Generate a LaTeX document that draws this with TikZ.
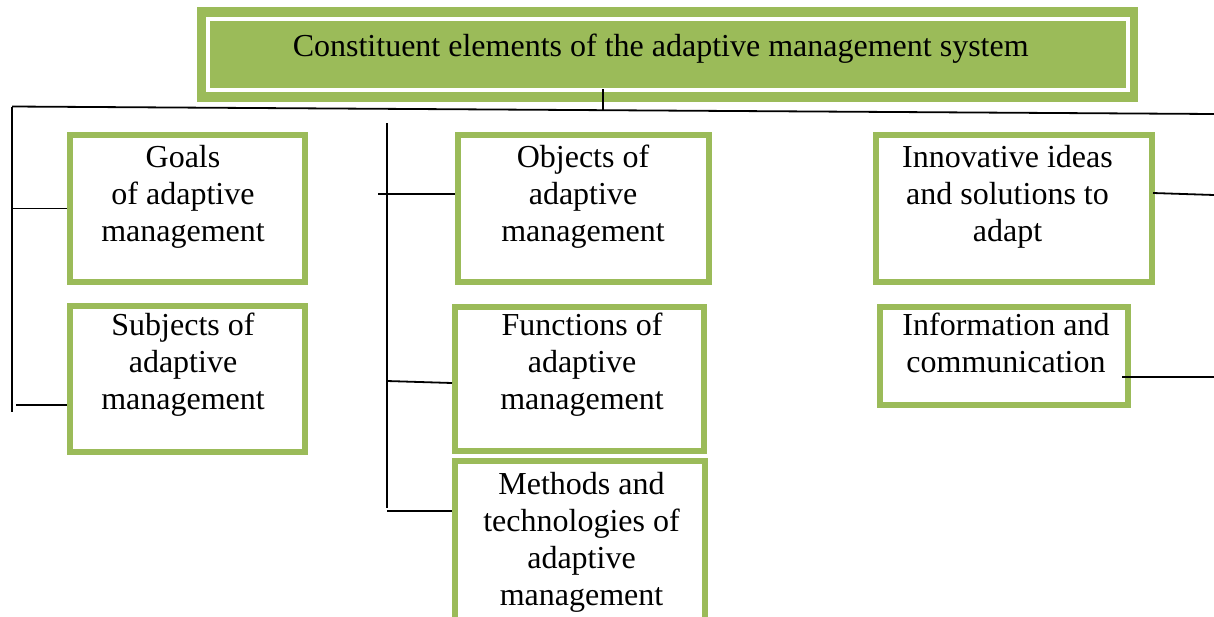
\documentclass[tikz,border=0pt]{standalone}
\usepackage{fontspec}
\setmainfont{Liberation Serif}
\definecolor{olivegreen}{HTML}{9BBB59}
% #1 width, #2 height, #3 top gap, #4 shift (2x leftward offset), #5 text
\newcommand{\bxt}[5]{\parbox[c][#2][t]{#1}{\centering\rightskip=#4 plus 1fil\vspace*{#3}\strut #5\par}}
\begin{document}
\begin{tikzpicture}[x=1pt,y=-1pt,
  txt/.style={font=\fontsize{32}{37}\selectfont},
  gbox/.style={txt,draw=olivegreen,line width=6pt,inner sep=0pt,anchor=north west,fill=white},
  titlebox/.style={txt,fill=olivegreen,inner sep=0pt,anchor=north west},
  conn/.style={draw=black,line width=1.8pt}]
\useasboundingbox (0,0) rectangle (1214,616);
% title
\node[titlebox] (title) at (197,7) {\bxt{941pt}{95pt}{23.1pt}{14pt}{Constituent elements of the adaptive management system}};
\draw[white,line width=4pt] ([shift={(11,12)}]title.north west) rectangle ([shift={(-10.5,-12)}]title.south east);
% boxes
\node[gbox] (goals) at (67,132) {\bxt{235pt}{147pt}{6.1pt}{9pt}{Goals\\of adaptive\\management}};
\node[gbox] (subj) at (67,303) {\bxt{235pt}{146pt}{3.1pt}{9pt}{Subjects of\\adaptive\\management}};
\node[gbox] (obj) at (455,132) {\bxt{251pt}{147pt}{6.1pt}{1pt}{Objects of\\adaptive\\management}};
\node[gbox] (func) at (452,304) {\bxt{249pt}{144pt}{2.1pt}{-5pt}{Functions of\\adaptive\\management}};
\node[gbox] (meth) at (452,458) {\bxt{250pt}{175pt}{7.1pt}{-3pt}{Methods and\\technologies of\\adaptive\\management}};
\node[gbox] (innov) at (873,132) {\bxt{276pt}{147pt}{6.1pt}{13pt}{Innovative ideas\\and solutions to\\adapt}};
\node[gbox] (info) at (877,304) {\bxt{248pt}{98pt}{2.1pt}{-4pt}{Information and\\communication}};
% bus coordinates
\coordinate (busL) at (12,106.5);
\coordinate (busR) at (1214,114);
\coordinate (tdrop) at (603,89);
\coordinate (tdropend) at (603,111);
\coordinate (lbot) at (12,412);
\coordinate (mtop) at (387,123);
\coordinate (mbot) at (387,508);
\coordinate (s1) at (16,405);
\coordinate (o1) at (378,194);
\coordinate (f1) at (387,381);
\coordinate (f2) at (452,383);
\coordinate (m1) at (387,511);
\coordinate (i1) at (1153,193);
\coordinate (i2) at (1214,195);
\coordinate (c1) at (1122,377);
\coordinate (c2) at (1214,377);
% connectors
\draw[conn] (busL) -- (busR);
\draw[conn] (tdrop) -- (tdropend);
\draw[conn] (busL) -- (lbot);
\draw[conn] (goals.west) -- (goals.west -| busL);
\draw[conn] (s1) -- (s1 -| subj.west);
\draw[conn] (mtop) -- (mbot);
\draw[conn] (o1) -- (o1 -| obj.west);
\draw[conn] (f1) -- (f2);
\draw[conn] (m1) -- (m1 -| meth.west);
\draw[conn] (i1) -- (i2);
\draw[conn] (c1) -- (c2);
\end{tikzpicture}
\end{document}
